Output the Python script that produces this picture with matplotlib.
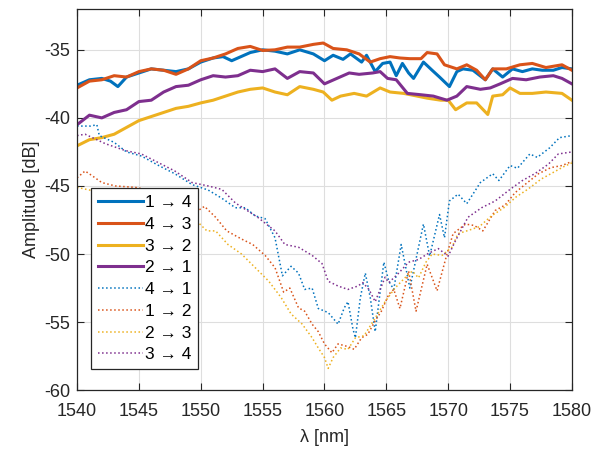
import numpy as np
import matplotlib.pyplot as plt

plt.rcParams['font.family'] = ['Liberation Sans', 'DejaVu Sans']
plt.rcParams['axes.unicode_minus'] = False

# solid lines
lam_14 = [1540, 1541, 1542, 1542.7, 1543.3, 1544, 1545, 1546, 1547, 1548, 1549, 1550, 1551, 1551.8,
          1552.5, 1553, 1554, 1555, 1556, 1557, 1558, 1559.1, 1560, 1560.7, 1561.5, 1562.1, 1563,
          1563.4, 1564.1, 1564.7, 1565.3, 1565.8, 1566.3, 1566.8, 1567.2, 1568, 1568.7, 1569.3,
          1570.1, 1570.7, 1571.2, 1572, 1573, 1573.6, 1574.4, 1575.2, 1576, 1576.8, 1577.6,
          1578.5, 1579.2, 1580]
amp_14 = [-37.6, -37.2, -37.1, -37.3, -37.7, -37.0, -36.7, -36.4, -36.5, -36.6, -36.4, -35.9, -35.6,
          -35.5, -35.8, -35.6, -35.2, -35.0, -35.1, -35.3, -35.0, -35.3, -35.8, -35.4, -35.7, -35.3,
          -35.9, -35.4, -36.6, -36.0, -35.9, -36.9, -36.0, -36.7, -37.1, -35.9, -36.5, -37.0,
          -37.7, -36.6, -36.4, -36.5, -37.2, -36.4, -37.0, -36.4, -36.6, -36.4, -36.5, -36.5,
          -36.3, -36.4]

lam_43 = [1540, 1541, 1542, 1543, 1544, 1545, 1546, 1547, 1548, 1549, 1550, 1551, 1552, 1553, 1554,
          1555, 1556, 1557, 1558, 1559.1, 1559.9, 1560.7, 1561.8, 1562.8, 1563.7, 1564.5, 1565.3,
          1566.1, 1566.9, 1567.8, 1568.3, 1569.1, 1569.7, 1570.7, 1571.5, 1572.3, 1573, 1573.6,
          1574.7, 1575.8, 1576.8, 1577.9, 1579.2, 1580]
amp_43 = [-37.8, -37.3, -37.2, -36.9, -37.0, -36.6, -36.4, -36.5, -36.8, -36.4, -35.8, -35.6, -35.3,
          -34.9, -34.75, -35.05, -35.0, -34.8, -34.8, -34.6, -34.5, -34.9, -35.0, -35.3, -35.9,
          -35.65, -35.5, -35.6, -35.65, -35.65, -35.2, -35.3, -36.1, -36.4, -36.1, -36.5, -37.2,
          -36.4, -36.4, -36.1, -36.0, -36.3, -36.1, -36.5]

lam_32 = [1540, 1541, 1542, 1543, 1544, 1545, 1546, 1547, 1548, 1549, 1550, 1551, 1552, 1553, 1554,
          1555, 1556, 1557, 1558, 1559.1, 1559.9, 1560.6, 1561.3, 1562.4, 1563.4, 1564.5, 1565.3,
          1566.4, 1567.5, 1568.3, 1569.4, 1570, 1570.6, 1571.5, 1572.3, 1573.2, 1573.6, 1574.4,
          1575, 1575.8, 1576.8, 1577.9, 1579.2, 1580]
amp_32 = [-42.05, -41.6, -41.45, -41.2, -40.7, -40.2, -39.9, -39.6, -39.3, -39.15, -38.9, -38.7,
          -38.4, -38.1, -37.9, -37.8, -38.1, -38.3, -37.7, -37.9, -38.1, -38.7, -38.4, -38.2,
          -38.4, -37.8, -38.1, -38.2, -38.4, -38.55, -38.7, -38.7, -39.4, -38.9, -38.9, -39.75,
          -38.4, -38.3, -37.8, -38.2, -38.2, -38.1, -38.2, -38.7]

lam_21 = [1540, 1541, 1542, 1543, 1544, 1545, 1546, 1547, 1548, 1549, 1550, 1551, 1552, 1553, 1554,
          1555, 1556, 1557, 1558, 1559.1, 1560, 1561, 1562, 1562.8, 1563.9, 1564.5, 1565.1, 1565.8,
          1566.7, 1567.8, 1568.8, 1569.9, 1570.7, 1571.5, 1572.6, 1573.4, 1574.2, 1575.2, 1576.3,
          1577.4, 1578.5, 1579.2, 1580]
amp_21 = [-40.5, -39.8, -40.0, -39.6, -39.4, -38.8, -38.7, -38.1, -37.7, -37.6, -37.2, -36.9, -37.0,
          -36.9, -36.5, -36.6, -36.4, -37.1, -36.6, -36.7, -37.5, -37.1, -36.7, -36.8, -36.7,
          -36.6, -37.1, -37.2, -38.2, -38.3, -38.4, -38.7, -38.4, -37.7, -37.9, -37.8, -37.5,
          -37.1, -37.2, -37.0, -36.9, -37.1, -37.5]

# dotted lines
lam_41 = [1540, 1541.1, 1541.6, 1541.8, 1543, 1544, 1545.2, 1546.6, 1547.9, 1549.3, 1550.6, 1551.7,
          1552.8, 1553.6, 1554.4, 1555.2, 1556, 1556.6, 1557.3, 1557.9, 1558.4, 1559, 1559.5,
          1560.3, 1561.1, 1561.6, 1561.9, 1562.3, 1562.5, 1562.9, 1563.3, 1563.7, 1564.1, 1564.4,
          1564.8, 1565.2, 1565.6, 1566.2, 1566.9, 1568, 1568.5, 1569.3, 1569.7, 1570.1, 1570.8,
          1571.5, 1572, 1572.6, 1573.6, 1574.1, 1575, 1575.6, 1576.6, 1577.2, 1578.2, 1579, 1580]
amp_41 = [-40.6, -40.6, -40.5, -41.3, -41.8, -42.5, -42.8, -43.5, -44.1, -44.9, -45.3, -45.9, -46.6,
          -46.6, -47.2, -47.4, -48.8, -51.6, -50.9, -51.4, -52.6, -52.5, -54.0, -54.3, -55.15,
          -53.95, -53.5, -55.5, -56.15, -53.2, -51.4, -53.2, -55.7, -53.5, -50.6, -52.0, -52.6,
          -49.3, -52.5, -47.8, -50.15, -47.1, -48.8, -46.1, -45.6, -46.3, -45.6, -44.75, -44.1,
          -44.6, -43.5, -43.7, -42.65, -42.9, -42.2, -41.45, -41.3]

lam_12 = [1540, 1540.65, 1541.3, 1542, 1543.1, 1544.7, 1546.3, 1548, 1549.8, 1550.3, 1551.2, 1552.1,
          1553.3, 1554.2, 1555.2, 1556, 1556.7, 1557.2, 1557.9, 1558.4, 1559, 1559.5, 1560, 1560.6,
          1561.1, 1561.9, 1562.4, 1563, 1563.5, 1564.1, 1564.6, 1565.2, 1565.6, 1566.1, 1566.8,
          1567.4, 1568.3, 1569.1, 1569.9, 1570.4, 1571.4, 1572.1, 1572.8, 1573.8, 1574.6, 1575.4,
          1576.2, 1577.3, 1578.3, 1579.2, 1580]
amp_12 = [-44.4, -43.9, -44.3, -44.75, -45.0, -45.1, -45.4, -46.0, -46.8, -46.5, -47.3, -48.3, -48.9,
          -49.3, -50.1, -51.0, -52.8, -52.5, -53.95, -54.2, -55.15, -55.7, -56.6, -57.25, -56.6,
          -56.8, -57.0, -56.15, -55.9, -54.9, -54.2, -52.95, -52.6, -54.0, -51.25, -54.2, -50.75,
          -52.7, -50.0, -48.5, -47.8, -47.9, -48.3, -46.8, -46.4, -45.5, -44.9, -44.1, -43.65,
          -43.5, -43.2]

lam_23 = [1540, 1541, 1542.5, 1544, 1546, 1548, 1549.7, 1550.5, 1551.2, 1552.2, 1553.3, 1554.4,
          1555.5, 1556.5, 1557.3, 1558.2, 1559, 1559.5, 1560, 1560.3, 1560.7, 1561.3, 1561.9,
          1562.5, 1563.2, 1564.1, 1564.9, 1565.7, 1566.5, 1567.1, 1567.6, 1568.2, 1568.7, 1569.5,
          1570.3, 1570.8, 1571.5, 1572.5, 1573.5, 1574.5, 1575.5, 1576.5, 1577.5, 1578.5, 1579.3,
          1580]
amp_23 = [-45.1, -45.3, -45.5, -45.7, -46.0, -46.7, -47.6, -48.3, -48.3, -49.3, -50.0, -51.0, -52.0,
          -53.2, -54.4, -55.15, -56.15, -56.9, -57.6, -58.4, -57.6, -56.9, -57.0, -56.15, -56.0,
          -54.7, -53.5, -52.5, -51.75, -51.25, -51.75, -50.6, -50.0, -50.1, -49.5, -48.5, -48.3,
          -48.0, -47.2, -46.6, -45.8, -45.2, -44.5, -44.0, -43.6, -43.3]

lam_34 = [1540, 1540.65, 1542.3, 1543.9, 1545.2, 1546.6, 1547.9, 1549.3, 1550.6, 1551.7, 1552.8,
          1554.6, 1556, 1556.8, 1557.9, 1559, 1559.8, 1560.3, 1561.1, 1561.9, 1562.7, 1563.1,
          1563.6, 1564.1, 1564.9, 1565.2, 1566, 1566.8, 1567.6, 1568.4, 1569.2, 1570, 1570.6,
          1571.6, 1572.7, 1573.8, 1575, 1576, 1577, 1578.1, 1578.9, 1580]
amp_34 = [-41.3, -41.2, -41.9, -42.4, -42.65, -43.3, -43.9, -44.75, -45.0, -45.25, -46.25, -47.3,
          -48.3, -49.3, -49.5, -50.1, -50.7, -52.0, -52.35, -52.6, -52.35, -52.1, -52.6, -53.5,
          -51.7, -52.1, -51.4, -50.6, -50.4, -49.95, -49.6, -50.15, -49.0, -47.3, -46.6, -46.1,
          -45.25, -44.6, -44.1, -43.4, -42.65, -42.5]

labels = ['1 → 4', '4 → 3', '3 → 2', '2 → 1', '4 → 1', '1 → 2', '2 → 3', '3 → 4']
colors = ['#0072BD', '#D95319', '#EDB120', '#7E2F8E']

fig = plt.figure(figsize=(6.02, 4.49), dpi=100)
ax = fig.add_axes([0.128, 0.131, 0.822, 0.849])

solid = [(lam_14, amp_14), (lam_43, amp_43), (lam_32, amp_32), (lam_21, amp_21)]
dotted = [(lam_41, amp_41), (lam_12, amp_12), (lam_23, amp_23), (lam_34, amp_34)]
for i, (x, y) in enumerate(solid):
    ax.plot(x, y, '-', color=colors[i], lw=2.2, label=labels[i])
for i, (x, y) in enumerate(dotted):
    ax.plot(x, y, ':', color=colors[i], lw=1.1, label=labels[i + 4])

ax.set_xlim(1540, 1580)
ax.set_ylim(-60, -32)
ax.set_xticks(np.arange(1540, 1581, 5))
ax.set_yticks(np.arange(-60, -34, 5))
ax.grid(True, color='#dedede', lw=0.8)
ax.set_axisbelow(True)
ax.tick_params(direction='in', top=True, right=True, labelsize=13, colors='#262626',
               length=5, width=0.8)
ax.tick_params(axis='x', pad=9)
ax.tick_params(axis='y', pad=5)
for s in ax.spines.values():
    s.set_color('#262626')
    s.set_linewidth(0.9)

ax.set_xlabel('λ [nm]', fontsize=13, color='#262626', labelpad=7)
ax.set_ylabel('Amplitude [dB]', fontsize=13, color='#262626', labelpad=3)

leg = ax.legend(loc='upper left', bbox_to_anchor=(0.028, 0.53), borderaxespad=0,
                fontsize=12.5, handlelength=2.6, handletextpad=0.1, labelspacing=0.38,
                fancybox=False, framealpha=1, edgecolor='#262626', borderpad=0.4)
leg.get_frame().set_linewidth(0.9)

plt.savefig('out.png', dpi=100)
